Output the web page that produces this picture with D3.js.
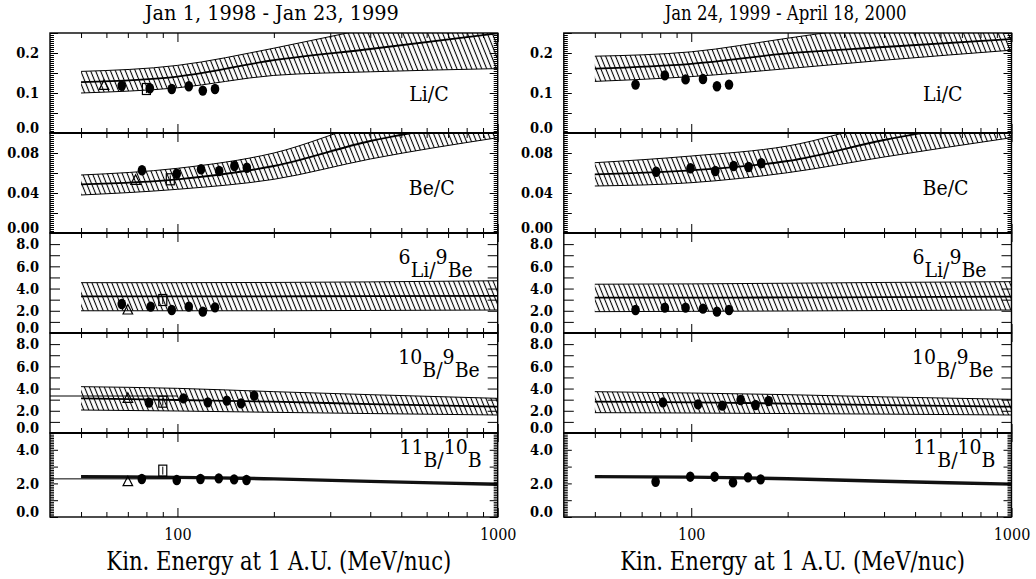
<!DOCTYPE html>
<html>
<head>
<meta charset="utf-8">
<script src="https://cdn.jsdelivr.net/npm/d3@7"></script>
<style>
  body { margin: 0; background: #fff; }
  svg text { font-family: "DejaVu Serif Condensed", "DejaVu Serif", serif; fill: #000; }
</style>
</head>
<body>
<svg id="chart" width="1036" height="579"></svg>
<script>
// ---- data ----
const periods = ['Jan 1, 1998 - Jan 23, 1999', 'Jan 24, 1999 - April 18, 2000'];
const panelNames = ['Li/C', 'Be/C', '6Li/9Be', '10B/9Be', '11B/10B'];
const xLabel = 'Kin. Energy at 1 A.U. (MeV/nuc)';

// model energies (MeV/nuc) for the bands
const modelEnergy = [50, 100, 200, 400, 1000];

// period 1 models
const liCMid1 = [0.127, 0.141, 0.182, 0.210, 0.249];
const liCHi1  = [0.154, 0.169, 0.212, 0.262, 0.320];
const liCLo1  = [0.100, 0.113, 0.144, 0.153, 0.161];
const beCMid1 = [0.0487, 0.0537, 0.067, 0.092, 0.113];
const beCHi1  = [0.058, 0.0647, 0.080, 0.110, 0.130];
const beCLo1  = [0.038, 0.0437, 0.0537, 0.074, 0.0953];
const li6Mid1 = [3.30, 3.30, 3.30, 3.32, 3.35];
const li6Hi1  = [4.53, 4.53, 4.55, 4.60, 4.70];
const li6Lo1  = [2.00, 2.00, 2.00, 2.03, 2.07];
const b10Mid1 = [3.12, 2.97, 2.82, 2.60, 2.37];
const b10Hi1  = [4.17, 4.02, 3.72, 3.45, 3.12];
const b10Lo1  = [2.07, 1.98, 1.86, 1.75, 1.62];
const b11Mid1 = [2.40, 2.36, 2.27, 2.12, 1.95];

// period 2 models
const liCMid2 = [0.161, 0.173, 0.199, 0.215, 0.235];
const liCHi2  = [0.192, 0.203, 0.237, 0.270, 0.290];
const liCLo2  = [0.129, 0.141, 0.161, 0.182, 0.207];
const beCMid2 = [0.0587, 0.0627, 0.072, 0.093, 0.115];
const beCHi2  = [0.0703, 0.077, 0.087, 0.110, 0.130];
const beCLo2  = [0.047, 0.0503, 0.0603, 0.076, 0.0953];
const li6Mid2 = [3.18, 3.18, 3.20, 3.23, 3.27];
const li6Hi2  = [4.39, 4.42, 4.48, 4.55, 4.62];
const li6Lo2  = [1.92, 1.95, 1.98, 2.02, 2.07];
const b10Mid2 = [2.82, 2.75, 2.65, 2.50, 2.37];
const b10Hi2  = [3.72, 3.60, 3.45, 3.25, 3.03];
const b10Lo2  = [1.83, 1.80, 1.75, 1.70, 1.62];
const b11Mid2 = [2.40, 2.37, 2.28, 2.13, 1.96];

// measured ratios (filled circles), period 1
const liCE1 = [67, 82, 96, 108.5, 120, 131];
const liCV1 = [0.118, 0.112, 0.110, 0.117, 0.106, 0.110];
const beCE1 = [77.5, 99.5, 118.5, 135, 150.6, 164.7];
const beCV1 = [0.0627, 0.0593, 0.0637, 0.062, 0.067, 0.0653];
const li6E1 = [67, 82.5, 96, 108.5, 120, 131];
const li6V1 = [2.61, 2.37, 2.07, 2.37, 1.92, 2.31];
const b10E1 = [81.5, 104.4, 124.4, 142.6, 158, 173.6];
const b10V1 = [2.73, 3.12, 2.76, 2.91, 2.67, 3.36];
const b11E1 = [77.4, 99.5, 118, 134.6, 150.3, 164.3];
const b11V1 = [2.26, 2.20, 2.26, 2.30, 2.24, 2.20];

// measured ratios (filled circles), period 2
const liCE2 = [67, 82.7, 96, 108.8, 120.3, 131.2];
const liCV2 = [0.121, 0.144, 0.134, 0.135, 0.117, 0.121];
const beCE2 = [77.7, 99.5, 118.9, 135.6, 151, 165.5];
const beCV2 = [0.0613, 0.0647, 0.062, 0.067, 0.066, 0.0697];
const li6E2 = [67, 82.7, 96, 108.8, 120.3, 131.2];
const li6V2 = [2.07, 2.28, 2.28, 2.19, 1.92, 2.07];
const b10E2 = [81.6, 105, 125, 142.6, 158.8, 174.5];
const b10V2 = [2.76, 2.58, 2.46, 2.97, 2.52, 2.88];
const b11E2 = [77.4, 99.3, 118.3, 135, 150.4, 164.7];
const b11V2 = [2.10, 2.40, 2.40, 2.06, 2.36, 2.24];

// other instruments, period 1 only (triangle / square), one per panel
const triE = [59, 74, 70, 70, 70];
const triV = [0.119, 0.0527, 2.07, 3.12, 2.10];
const sqE  = [80, 95, 90, 90, 90];
const sqV  = [0.110, 0.0537, 2.97, 2.82, 2.76];

// thin reference line near the left edge (period 1, B panels)
const refLineE = [40, 100];
const refLineV = [null, null, null, 3.33, 2.27];

// axis ticks
const xTickMajor = [100, 1000];
const xTickMinor = [50, 60, 70, 80, 90, 200, 300, 400, 500, 600, 700, 800, 900];
const yDomains = [[0, 0.25], [0, 0.1], [0, 9], [0, 9], [0, 5]];
const yTickLabels = [[0, 0.1, 0.2], [0, 0.04, 0.08], [0, 2, 4, 6, 8], [0, 2, 4, 6, 8], [0, 2, 4]];
const yLabelFormat = ['.1f', '.2f', '.1f', '.1f', '.1f'];
const yMajorStep = [0.05, 0.02, 1, 1, 1];
const yMinorStep = [0.005, 0.002, null, null, 0.1];

// ---- layout ----
const colX = [50, 563.8];
const plotW = 447.7;
const panelTop = [33, 133, 233, 333, 433];
const panelH = [100, 100, 100, 100, 84];
const nameRight = [49, 43, 25, 18, 16];
const nameBase = [68, 62, 44, 44, 34];
const bandHalf5 = 0.1; // half thickness of the 11B/10B model line

const models = [
  [[liCMid1, liCHi1, liCLo1], [beCMid1, beCHi1, beCLo1], [li6Mid1, li6Hi1, li6Lo1], [b10Mid1, b10Hi1, b10Lo1], [b11Mid1]],
  [[liCMid2, liCHi2, liCLo2], [beCMid2, beCHi2, beCLo2], [li6Mid2, li6Hi2, li6Lo2], [b10Mid2, b10Hi2, b10Lo2], [b11Mid2]]
];
const points = [
  [[liCE1, liCV1], [beCE1, beCV1], [li6E1, li6V1], [b10E1, b10V1], [b11E1, b11V1]],
  [[liCE2, liCV2], [beCE2, beCV2], [li6E2, li6V2], [b10E2, b10V2], [b11E2, b11V2]]
];

const svg = d3.select('#chart');
svg.append('rect').attr('width', 1036).attr('height', 579).attr('fill', '#fff');

const defs = svg.append('defs');
defs.append('pattern')
  .attr('id', 'hatch')
  .attr('patternUnits', 'userSpaceOnUse')
  .attr('width', 4.6).attr('height', 10)
  .attr('patternTransform', 'rotate(-22)')
  .append('line')
  .attr('x1', 2.3).attr('x2', 2.3).attr('y1', 0).attr('y2', 10)
  .attr('stroke', '#000').attr('stroke-width', 1.1);

const stepRange = (dom, step) => step ? d3.range(dom[0], dom[1] + step / 2, step).map(v => +v.toFixed(6)) : [];

periods.forEach((title, c) => {
  const x0 = colX[c], x1 = x0 + plotW;
  const x = d3.scaleLog().domain([40, 1000]).range([x0, x1]);

  svg.append('text')
    .attr('x', (x0 + x1) / 2 - 2).attr('y', 20)
    .attr('text-anchor', 'middle')
    .attr('font-size', 20)
    .attr('textLength', c === 0 ? 254 : 242)
    .attr('lengthAdjust', 'spacingAndGlyphs')
    .text(title);

  panelNames.forEach((name, i) => {
    const top = panelTop[i], bot = top + panelH[i];
    const y = d3.scaleLinear().domain(yDomains[i]).range([bot, top]);
    const g = svg.append('g');
    const clipId = `clip-${c}-${i}`;
    defs.append('clipPath').attr('id', clipId)
      .append('rect').attr('x', x0).attr('y', top).attr('width', plotW).attr('height', panelH[i]);
    const plot = g.append('g').attr('clip-path', `url(#${clipId})`);

    // model band
    const [mid, hi, lo] = models[c][i];
    const rows = modelEnergy.map((e, k) => ({
      e, mid: mid[k],
      hi: hi ? hi[k] : mid[k] + bandHalf5,
      lo: lo ? lo[k] : mid[k] - bandHalf5
    }));
    const area = d3.area().x(d => x(d.e)).y0(d => y(d.lo)).y1(d => y(d.hi)).curve(d3.curveMonotoneX);
    const line = key => d3.line().x(d => x(d.e)).y(d => y(d[key])).curve(d3.curveMonotoneX);
    if (hi) {
      plot.append('path').attr('d', area(rows)).attr('fill', 'url(#hatch)');
      ['hi', 'lo'].forEach(k => plot.append('path').attr('d', line(k)(rows))
        .attr('fill', 'none').attr('stroke', '#000').attr('stroke-width', 1));
      plot.append('path').attr('d', line('mid')(rows))
        .attr('fill', 'none').attr('stroke', '#000').attr('stroke-width', 1.8);
    } else {
      plot.append('path').attr('d', area(rows)).attr('fill', '#111');
    }

    if (c === 0 && refLineV[i] != null) {
      plot.append('path')
        .attr('d', d3.line().x(d => x(d)).y(() => y(refLineV[i]))(refLineE))
        .attr('stroke', '#000').attr('stroke-width', 1);
    }

    // measured points
    const [pe, pv] = points[c][i];
    plot.selectAll('ellipse.pt').data(pe.map((e, k) => [e, pv[k]])).join('ellipse')
      .attr('class', 'pt')
      .attr('cx', d => x(d[0])).attr('cy', d => y(d[1]))
      .attr('rx', 4.3).attr('ry', 5.2).attr('fill', '#000');

    if (c === 0) {
      const tx = x(triE[i]), ty = y(triV[i]);
      plot.append('path')
        .attr('d', `M${tx},${ty - 5.5}L${tx + 4.8},${ty + 4}L${tx - 4.8},${ty + 4}Z`)
        .attr('fill', 'none').attr('stroke', '#000').attr('stroke-width', 1.2);
      const sx = x(sqE[i]), sy = y(sqV[i]);
      plot.append('rect')
        .attr('x', sx - 4).attr('y', sy - 5.5).attr('width', 8).attr('height', 11)
        .attr('fill', 'none').attr('stroke', '#000').attr('stroke-width', 1.2);
      plot.append('line')
        .attr('x1', sx).attr('x2', sx).attr('y1', sy - 4).attr('y2', sy + 4)
        .attr('stroke', '#000').attr('stroke-width', 1);
    }

    // ticks, all pointing into the panel
    const tickStyle = sel => {
      sel.select('.domain').remove();
      sel.selectAll('line').attr('stroke', '#000').attr('stroke-width', 1);
    };
    const yMajor = stepRange(yDomains[i], yMajorStep[i]);
    const yMinor = stepRange(yDomains[i], yMinorStep[i]).filter(v => !yMajor.some(m => Math.abs(m - v) < 1e-9));
    const majLen = yMinorStep[i] ? 8 : 10;
    g.append('g').attr('transform', `translate(${x0},0)`)
      .call(d3.axisRight(y).tickValues(yMajor).tickSize(majLen).tickFormat('')).call(tickStyle);
    g.append('g').attr('transform', `translate(${x1},0)`)
      .call(d3.axisLeft(y).tickValues(yMajor).tickSize(majLen).tickFormat('')).call(tickStyle);
    if (yMinor.length) {
      g.append('g').attr('transform', `translate(${x0},0)`)
        .call(d3.axisRight(y).tickValues(yMinor).tickSize(4).tickFormat('')).call(tickStyle);
      g.append('g').attr('transform', `translate(${x1},0)`)
        .call(d3.axisLeft(y).tickValues(yMinor).tickSize(4).tickFormat('')).call(tickStyle);
    }
    [[top, d3.axisBottom], [bot, d3.axisTop]].forEach(([yy, ax]) => {
      g.append('g').attr('transform', `translate(0,${yy})`)
        .call(ax(x).tickValues(xTickMinor).tickSize(5).tickFormat('')).call(tickStyle);
      g.append('g').attr('transform', `translate(0,${yy})`)
        .call(ax(x).tickValues(xTickMajor).tickSize(9).tickFormat('')).call(tickStyle);
    });

    // frame
    g.append('rect').attr('x', x0).attr('y', top).attr('width', plotW).attr('height', panelH[i])
      .attr('fill', 'none').attr('stroke', '#000').attr('stroke-width', 1.4);
    if (i > 0) {
      g.append('line').attr('x1', x0).attr('x2', x1).attr('y1', top).attr('y2', top)
        .attr('stroke', '#000').attr('stroke-width', 2.2);
    }

    // y tick labels (the bottom one is lifted inside the panel)
    const fmt = d3.format(yLabelFormat[i]);
    g.selectAll('text.ylab').data(yTickLabels[i]).join('text')
      .attr('class', 'ylab')
      .attr('x', x0 - 11)
      .attr('y', v => Math.min(y(v), bot - 5.5))
      .attr('dy', '0.36em')
      .attr('text-anchor', 'end')
      .attr('font-size', 14.5)
      .attr('font-weight', 'bold')
      .text(fmt);

    // panel name, numbers as raised mass numbers
    const t = g.append('text')
      .attr('x', x1 - nameRight[i]).attr('y', top + nameBase[i])
      .attr('text-anchor', 'end').attr('font-size', 21);
    let raised = false;
    name.split(/(\d+)/).filter(s => s).forEach(part => {
      const isNum = /^\d+$/.test(part);
      const dy = isNum && !raised ? -13 : (!isNum && raised ? 13 : 0);
      raised = isNum;
      t.append('tspan').attr('dy', dy).text(part);
    });
  });

  // bottom energy labels and axis title
  const yb = panelTop[4] + panelH[4];
  svg.append('g').attr('transform', `translate(0,${yb})`)
    .call(d3.axisBottom(x).tickValues(xTickMajor).tickSize(0).tickPadding(12).tickFormat(d3.format('d')))
    .call(sel => {
      sel.select('.domain').remove();
      sel.attr('font-family', null).attr('font-size', null);
      sel.selectAll('text').attr('font-size', 16).attr('fill', '#000');
    });
  svg.append('text')
    .attr('x', (x0 + x1) / 2 + 5).attr('y', 570)
    .attr('text-anchor', 'middle')
    .attr('font-size', 26)
    .attr('textLength', 345)
    .attr('lengthAdjust', 'spacingAndGlyphs')
    .text(xLabel);
});
</script>
</body>
</html>
